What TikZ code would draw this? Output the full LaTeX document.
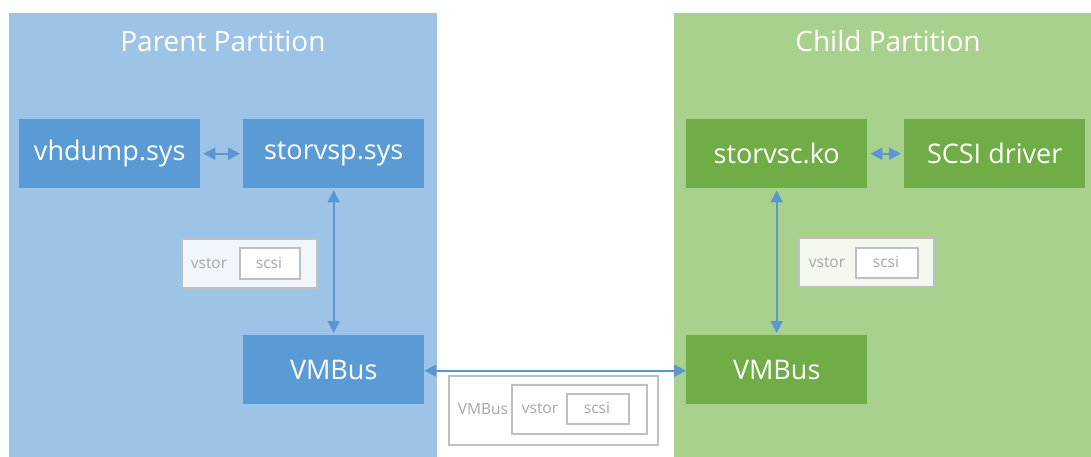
\documentclass[tikz,border=0pt]{standalone}
\usepackage{fontspec}
\setmainfont{Open Sans}
\usetikzlibrary{arrows.meta}
\definecolor{pbg}{HTML}{9DC3E6}
\definecolor{pbox}{HTML}{5B9BD5}
\definecolor{cbg}{HTML}{A9D18E}
\definecolor{cbox}{HTML}{70AD47}
\definecolor{arr}{HTML}{5B96D0}
\definecolor{pk}{HTML}{BFBFBF}
\definecolor{pktext}{HTML}{A6A6A6}
\begin{document}
\begin{tikzpicture}[x=1pt,y=-1pt,
  area/.style={anchor=north west,inner sep=0pt,minimum height=444pt},
  comp/.style={anchor=north west,inner sep=0pt,minimum width=181pt,minimum height=69pt,text=white,font=\fontsize{27}{31}\selectfont},
  title/.style={text=white,font=\fontsize{28}{32}\selectfont},
  pkt/.style={draw=pk,line width=1.5pt,fill=white,fill opacity=0.85,text opacity=1,anchor=north west,inner sep=0pt},
  pkl/.style={text=pktext,font=\fontsize{15.5}{18}\selectfont,inner sep=0pt},
  link/.style={draw=arr,line width=2pt,{Triangle[length=12pt,width=12pt]}-{Triangle[length=12pt,width=12pt]}}
]
\useasboundingbox (0,0) rectangle (1091,457);
\fill[white] (0,0) rectangle (1091,457);
% partitions
\node[area,fill=pbg,minimum width=428pt] (par) at (9,13) {};
\node[area,fill=cbg,minimum width=417pt] (chi) at (674,13) {};
\node[title] (pt) at (223,41) {Parent Partition};
\node[title] (ct) at (888,41) {Child Partition};
% components
\node[comp,fill=pbox] (vhd) at (19,119) {vhdump.sys};
\node[comp,fill=pbox] (vsp) at (243,119) {storvsp.sys};
\node[comp,fill=pbox] (pvm) at (243,335) {VMBus};
\node[comp,fill=cbox] (vsc) at (686,119) {storvsc.ko};
\node[comp,fill=cbox] (scd) at (904,119) {SCSI driver};
\node[comp,fill=cbox] (cvm) at (686,335) {VMBus};
% packets
\node[pkt,minimum width=135pt,minimum height=49pt] (p1) at (181,238) {};
\node[pkt,fill opacity=1,minimum width=60pt,minimum height=31pt] (p1s) at (239,247) {};
\node[pkl] at (209,263) {vstor};
\node[pkl] at (269,263) {scsi};
\node[pkt,minimum width=135pt,minimum height=49pt] (p2) at (798,237) {};
\node[pkt,fill opacity=1,minimum width=62pt,minimum height=30pt] (p2s) at (855,247) {};
\node[pkl] at (827,262) {vstor};
\node[pkl] at (886,262) {scsi};
\node[pkt,fill opacity=1,minimum width=209pt,minimum height=69pt] (p3) at (448,375) {};
\node[pkt,fill opacity=1,minimum width=135pt,minimum height=49pt] (p3v) at (511,384) {};
\node[pkt,fill opacity=1,minimum width=62pt,minimum height=30pt] (p3s) at (566,393) {};
\node[pkl] at (483,409) {VMBus};
\node[pkl] at (540,408) {vstor};
\node[pkl] at (597,408) {scsi};
% connectors
\draw[link] ([xshift=3pt]vhd.east) -- ([xshift=-3pt]vsp.west);
\draw[link] ([xshift=3pt]vsc.east) -- ([xshift=-3pt]scd.west);
\draw[link] ([yshift=-2pt]vsp.south) -- ([yshift=2pt]pvm.north);
\draw[link] ([yshift=-2pt]vsc.south) -- ([yshift=2pt]cvm.north);
\draw[link] ([yshift=-1pt]pvm.east) -- ([yshift=-1pt]cvm.west);
\end{tikzpicture}
\end{document}
